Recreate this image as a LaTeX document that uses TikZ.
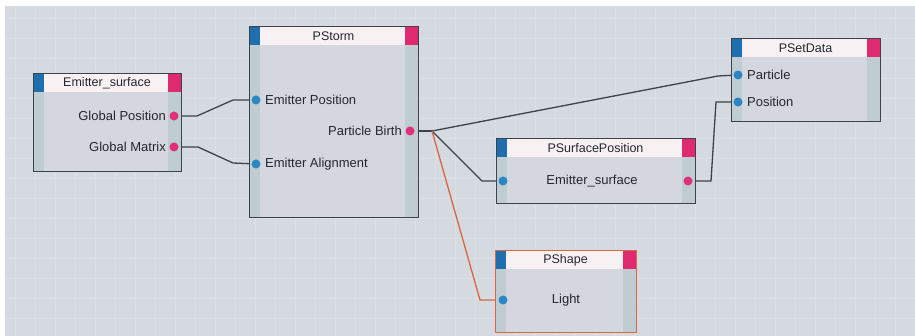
\documentclass[tikz,border=0pt]{standalone}
\usepackage{fontspec}
\setmainfont{Liberation Sans}
\pgfdeclarelayer{bg}
\pgfdeclarelayer{wires}
\pgfsetlayers{bg,wires,main}
\definecolor{bgc}{HTML}{D5D9E0}
\definecolor{gridc}{HTML}{DCDFE5}
\definecolor{boxfill}{HTML}{D4D8DE}
\definecolor{stripc}{HTML}{BFCDD2}
\definecolor{headc}{HTML}{F8F1F4}
\definecolor{bluec}{HTML}{1F6EAE}
\definecolor{pinkc}{HTML}{E02A70}
\definecolor{borderc}{HTML}{3C434B}
\definecolor{orangec}{HTML}{D8673F}
\definecolor{dotblue}{HTML}{2B86C6}
\definecolor{dotpink}{HTML}{E0307A}
\definecolor{textc}{HTML}{24282D}
\tikzset{
  x=1pt, y=-1pt,
  frame/.style={draw=borderc, line width=1.2pt, inner sep=0pt, anchor=north west},
  ttl/.style={font=\fontsize{12.5}{13}\selectfont, text=textc, inner sep=0pt},
  lbl/.style={font=\fontsize{13}{14}\selectfont, text=textc, inner sep=0pt},
  bdot/.style={circle, fill=dotblue, minimum size=9pt, inner sep=0pt},
  pdot/.style={circle, fill=dotpink, minimum size=9pt, inner sep=0pt},
  wire/.style={draw=borderc, line width=1.3pt},
  owire/.style={draw=orangec, line width=1.3pt},
}
% name, x1, y1, x2, y2, title, border colour
\newcommand\blk[7]{%
  \fill[boxfill] (#2,#3) rectangle (#4,#5);
  \fill[stripc] (#2,#3) rectangle ({#2+11},#5);
  \fill[stripc] ({#4-13},#3) rectangle (#4,#5);
  \fill[headc] ({#2+11},#3) rectangle ({#4-13},{#3+19});
  \fill[bluec] (#2,#3) rectangle ({#2+11},{#3+19});
  \fill[pinkc] ({#4-13},#3) rectangle (#4,{#3+19});
  \node[frame, draw=#7, minimum width={#4pt-#2pt}, minimum height={#5pt-#3pt}] (#1) at (#2,#3) {};
  \node[ttl] (#1-t) at ({(#2+#4)/2},{#3+10}) {#6};
}
\begin{document}
\begin{tikzpicture}
\useasboundingbox (0,0) rectangle (915,336);
\begin{pgfonlayer}{bg}
  \fill[white] (0,0) rectangle (915,336);
  \fill[bgc] (5,6) rectangle (915,336);
  \foreach \gx in {15,35,...,915} \draw[gridc, line width=0.8pt] (\gx,6) -- (\gx,336);
  \foreach \gy in {18,38,...,336} \draw[gridc, line width=0.8pt] (5,\gy) -- (915,\gy);
\end{pgfonlayer}

% Emitter_surface
\blk{es}{33}{73}{181}{171}{Emitter\_surface}{borderc}
\node[pdot] (es-gp) at (174,116) {};
\node[pdot] (es-gm) at (174,147) {};
\node[lbl, anchor=east] (es-gpl) at (166,116) {Global Position};
\node[lbl, anchor=east] (es-gml) at (166,147) {Global Matrix};

% PStorm
\blk{ps}{249}{26}{418}{217}{PStorm}{borderc}
\node[bdot] (ps-ep) at (256,100) {};
\node[bdot] (ps-ea) at (256,164) {};
\node[pdot] (ps-pb) at (410,131) {};
\node[lbl, anchor=west] (ps-epl) at (265,100) {Emitter Position};
\node[lbl, anchor=west] (ps-eal) at (265,164) {Emitter Alignment};
\node[lbl, anchor=east] (ps-pbl) at (402,131) {Particle Birth};

% PSetData
\blk{sd}{731}{38}{880}{121}{PSetData}{borderc}
\node[bdot] (sd-pa) at (738,75) {};
\node[bdot] (sd-po) at (738,102) {};
\node[lbl, anchor=west] (sd-pal) at (747,75) {Particle};
\node[lbl, anchor=west] (sd-pol) at (747,102) {Position};

% PSurfacePosition
\blk{sp}{496}{138}{695}{203}{PSurfacePosition}{borderc}
\node[bdot] (sp-in) at (503,181) {};
\node[pdot] (sp-out) at (688,181) {};
\node[lbl] (sp-l) at (592,181) {Emitter\_surface};

% PShape
\blk{sh}{495}{250}{636}{332}{PShape}{orangec}
\node[bdot] (sh-in) at (503,300) {};
\node[lbl] (sh-l) at (566,300) {Light};

% connectors
\coordinate (j) at (432,131);
\begin{pgfonlayer}{wires}
  \draw[wire] (es-gp.center) -- (197,116) -- (233,100) -- (ps-ep.center);
  \draw[wire] (es-gm.center) -- (198,147) -- (233,163) -- (ps-ea.center);
  \draw[wire] (ps-pb.center) -- (j);
  \draw[wire] (j) -- (718,76) -- (sd-pa.center);
  \draw[wire] (j) -- (482,181) -- (sp-in.center);
  \draw[owire] (j) -- (480,300) -- (sh-in.center);
  \draw[wire] (sp-out.center) -- (711,181) -- (716,102) -- (sd-po.center);
\end{pgfonlayer}
\end{tikzpicture}
\end{document}
